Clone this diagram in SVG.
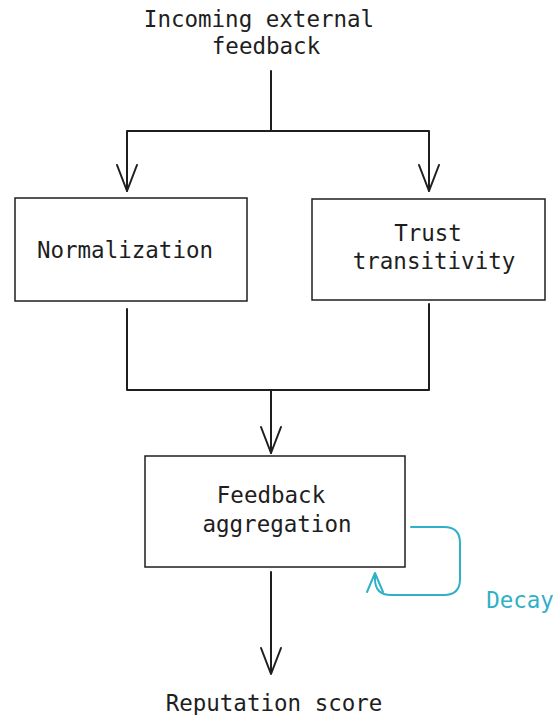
<svg xmlns="http://www.w3.org/2000/svg" width="553" height="715" viewBox="0 0 553 715">
<style>
.t{font-family:"DejaVu Sans Mono","Liberation Mono",monospace;font-size:22.5px;fill:#1e1e1e;text-anchor:middle}
.box{fill:#fff;stroke:#1e1e1e;stroke-width:1.5}
.ln{fill:none;stroke:#1e1e1e;stroke-width:2;stroke-linecap:round;stroke-linejoin:round}
.dc{fill:none;stroke:#2fb0c8;stroke-width:2;stroke-linecap:round;stroke-linejoin:round}
</style>
<rect width="553" height="715" fill="#fff"/>
<g id="input">
<text class="t" x="259" y="27">Incoming external</text>
<text class="t" x="266" y="54">feedback</text>
</g>
<g id="connectors">
<path class="ln" d="M271 71V131M127 131H429M127 131V191M429 131V191"/>
<path class="ln" d="M117 165L127 191L137 165M419 165L429 191L439 165"/>
<path class="ln" d="M127 309V390H429V304M271 390V453"/>
<path class="ln" d="M261 427L271 453L281 427"/>
<path class="ln" d="M271 572V674M261 648L271 674L281 648"/>
<path class="dc" d="M411 527H444Q460 527 460 543V579Q460 595 444 595H391Q375 595 375 579V573M367 592L375 573L383 592"/>
<text x="520" y="608" style="font-family:'DejaVu Sans Mono','Liberation Mono',monospace;font-size:22.5px;fill:#2fb0c8;text-anchor:middle">Decay</text>
</g>
<g id="normalization">
<rect class="box" x="15" y="198" width="232" height="103"/>
<text class="t" x="125" y="258">Normalization</text>
</g>
<g id="trust">
<rect class="box" x="312" y="199" width="233" height="101"/>
<text class="t" x="428" y="241">Trust</text>
<text class="t" x="434" y="269">transitivity</text>
</g>
<g id="aggregation">
<rect class="box" x="145" y="456" width="260" height="111"/>
<text class="t" x="271" y="503">Feedback</text>
<text class="t" x="277" y="532">aggregation</text>
</g>
<g id="output">
<text class="t" x="274" y="711">Reputation score</text>
</g>
</svg>
